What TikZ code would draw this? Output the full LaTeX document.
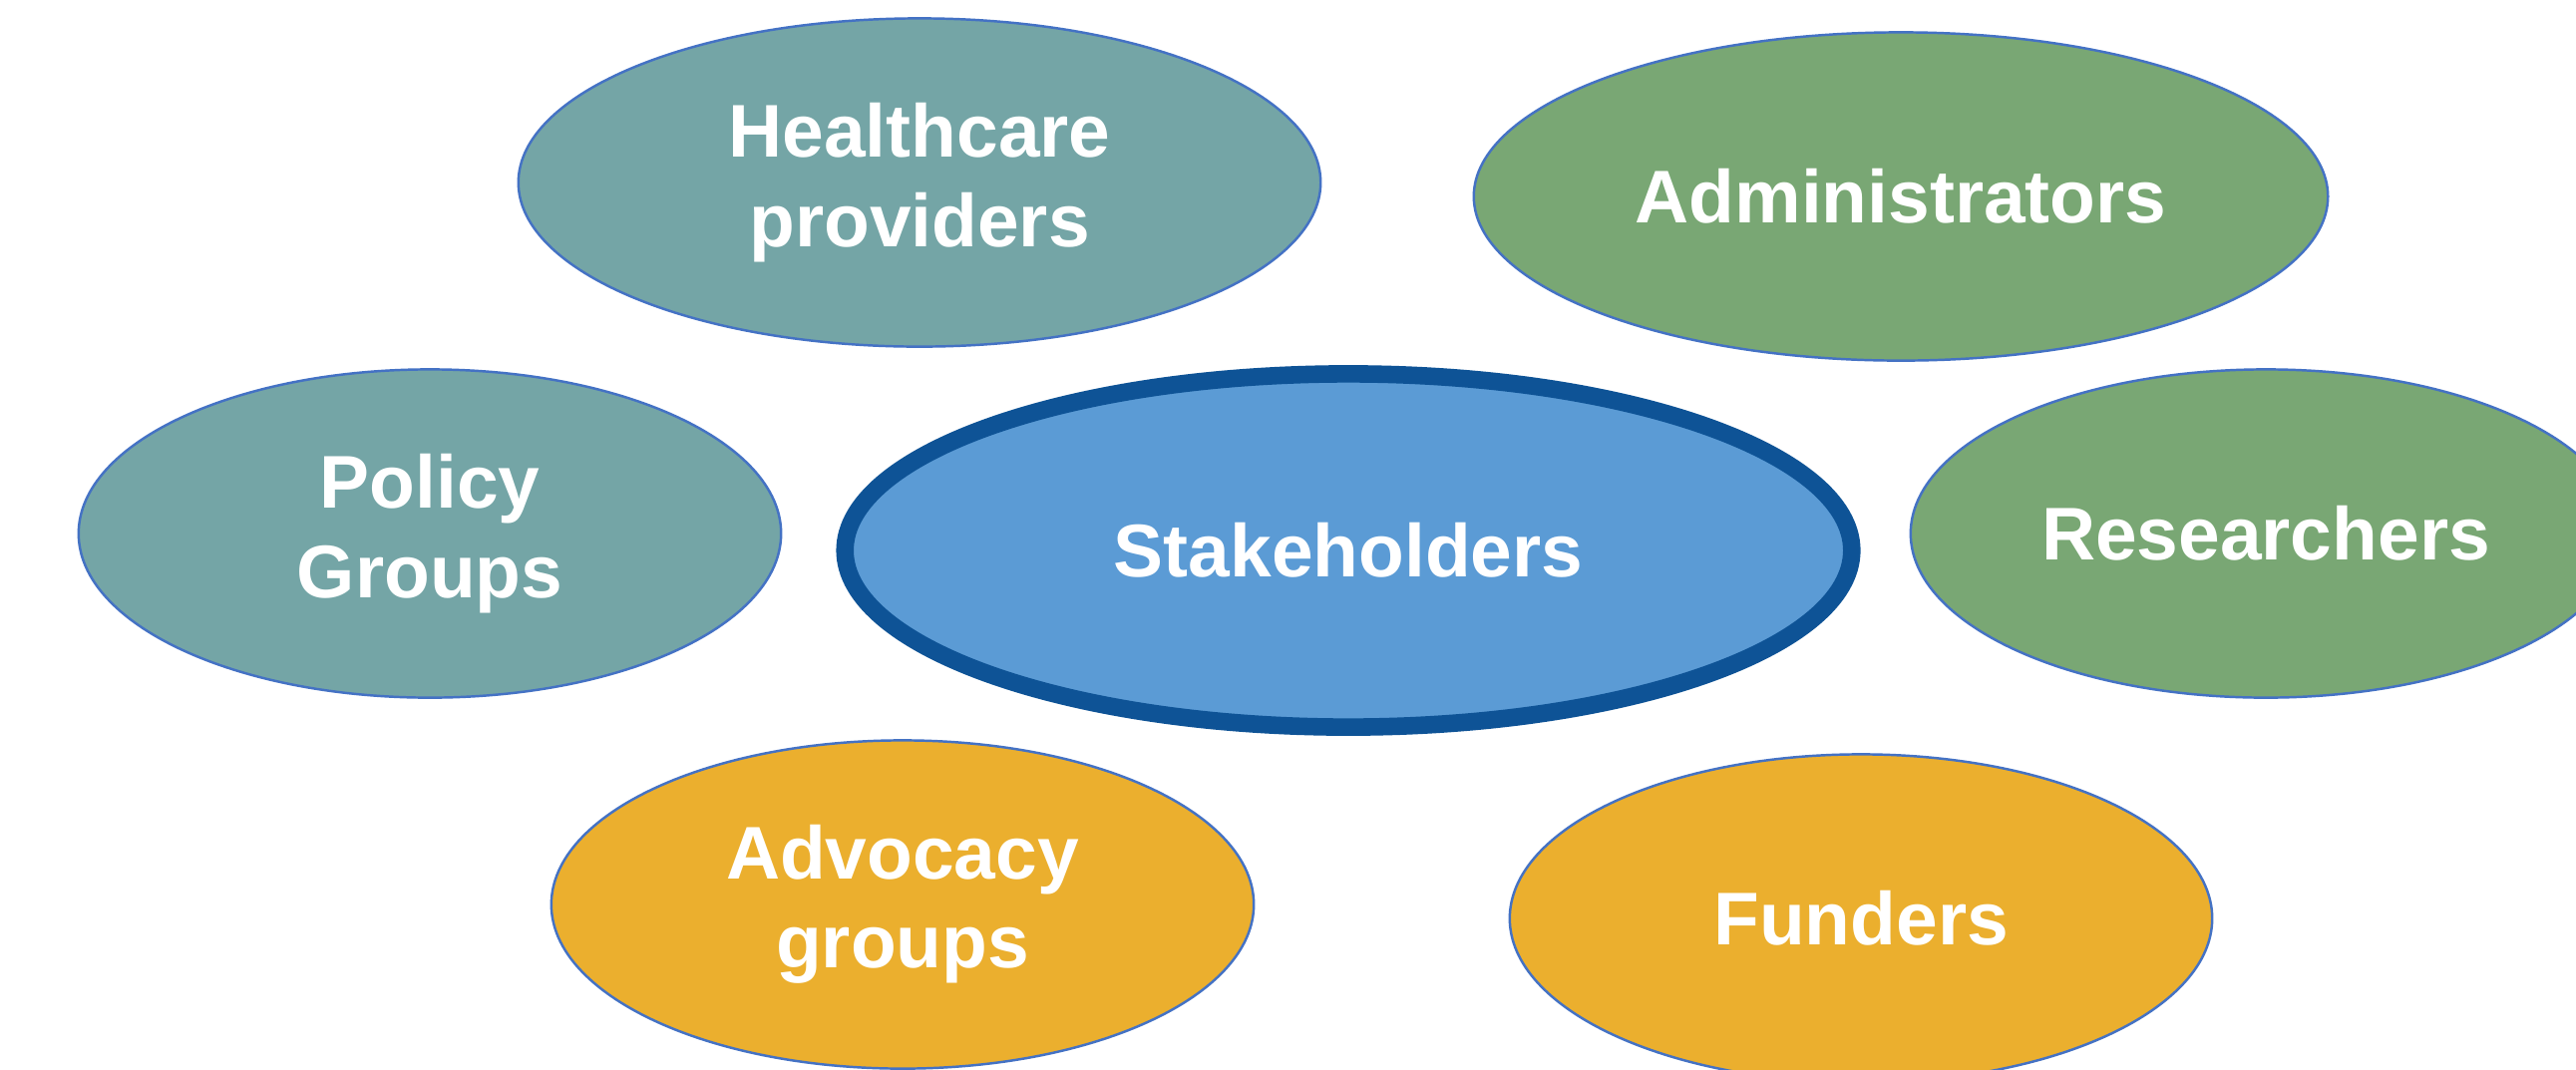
\documentclass[tikz,border=0pt]{standalone}
\usepackage{fontspec}
\setmainfont{Liberation Sans}
\usetikzlibrary{shapes.geometric}

\definecolor{tealgrp}{HTML}{74A5A6}
\definecolor{greengrp}{HTML}{79A774}
\definecolor{orangegrp}{HTML}{EBAF2E}
\definecolor{centerfill}{HTML}{5B9BD5}
\definecolor{centerrim}{HTML}{0E5396}
\definecolor{thinrim}{HTML}{4472C4}

\tikzset{
  grouplabel/.style={font=\bfseries\fontsize{21.3}{25.4}\selectfont, text=white, align=center},
  groupblob/.style={ellipse, draw=thinrim, line width=0.7pt, inner sep=0pt,
    minimum width=7.04cm, minimum height=3.29cm, grouplabel},
  centerblob/.style={ellipse, draw=centerrim, fill=centerfill, line width=5pt, inner sep=0pt,
    minimum width=10.09cm, minimum height=3.54cm, grouplabel}
}

\begin{document}
\begin{tikzpicture}[x=0.01cm,y=-0.01cm]
				%fix the page size
				\useasboundingbox (0,0) rectangle (2583,1072);
				\clip (0,0) rectangle (2583,1072);
				%draw the outer groups
				\node[groupblob, fill=tealgrp, minimum width=8.04cm] (healthcare) at (922,183) {Healthcare\\providers};
				\node[groupblob, fill=greengrp, minimum width=8.56cm] (admins) at (1906,197) {Administrators};
				\node[groupblob, fill=tealgrp] (policy) at (431,535) {Policy\\Groups};
				\node[groupblob, fill=greengrp, minimum width=7.12cm] (researchers) at (2272,535) {Researchers};
				\node[groupblob, fill=orangegrp] (advocacy) at (905,907) {Advocacy\\groups};
				\node[groupblob, fill=orangegrp] (funders) at (1866,921) {Funders};
				%draw the centre
				\node[centerblob] (stakeholders) at (1352,552) {Stakeholders};
\end{tikzpicture}
\end{document}
